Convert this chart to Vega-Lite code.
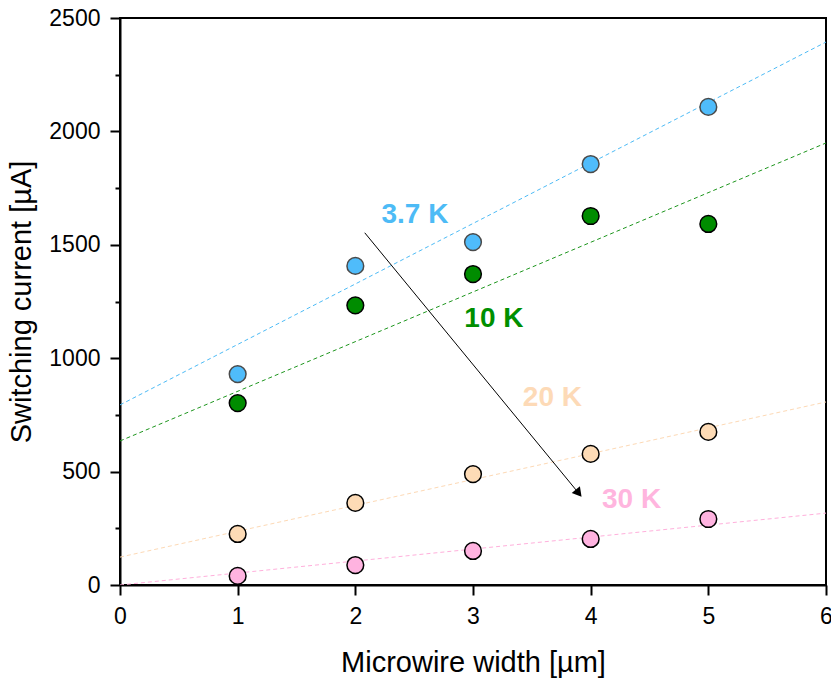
{
  "$schema": "https://vega.github.io/schema/vega-lite/v6.json",
  "autosize": {"type": "none"},
  "width": 706,
  "height": 567,
  "padding": {"left": 120, "top": 18, "right": 5, "bottom": 96},
  "background": "white",
  "config": {
    "view": {"stroke": "black", "strokeWidth": 2},
    "font": "Liberation Sans",
    "axis": {
      "domainColor": "black", "domainWidth": 2, "tickColor": "black", "tickWidth": 2,
      "labelFont": "Liberation Sans", "labelFontSize": 23, "labelColor": "black",
      "titleFont": "Liberation Sans", "titleFontSize": 29, "titleFontWeight": "normal", "titleColor": "black",
      "grid": false
    }
  },
  "datasets": {
    "pts": [
      {"series": "3.7 K", "w": 1, "ic": 930},
      {"series": "3.7 K", "w": 2, "ic": 1407},
      {"series": "3.7 K", "w": 3, "ic": 1512},
      {"series": "3.7 K", "w": 4, "ic": 1856},
      {"series": "3.7 K", "w": 5, "ic": 2108},
      {"series": "10 K", "w": 1, "ic": 802},
      {"series": "10 K", "w": 2, "ic": 1233},
      {"series": "10 K", "w": 3, "ic": 1371},
      {"series": "10 K", "w": 4, "ic": 1627},
      {"series": "10 K", "w": 5, "ic": 1592},
      {"series": "20 K", "w": 1, "ic": 225},
      {"series": "20 K", "w": 2, "ic": 362},
      {"series": "20 K", "w": 3, "ic": 489},
      {"series": "20 K", "w": 4, "ic": 578},
      {"series": "20 K", "w": 5, "ic": 675},
      {"series": "30 K", "w": 1, "ic": 40},
      {"series": "30 K", "w": 2, "ic": 88},
      {"series": "30 K", "w": 3, "ic": 150},
      {"series": "30 K", "w": 4, "ic": 203},
      {"series": "30 K", "w": 5, "ic": 291}
    ],
    "fits": [
      {"series": "3.7 K", "w": 0, "ic": 794},
      {"series": "3.7 K", "w": 6, "ic": 2394},
      {"series": "10 K", "w": 0, "ic": 635},
      {"series": "10 K", "w": 6, "ic": 1949},
      {"series": "20 K", "w": 0, "ic": 123},
      {"series": "20 K", "w": 6, "ic": 807},
      {"series": "30 K", "w": 0, "ic": 0},
      {"series": "30 K", "w": 6, "ic": 317}
    ],
    "labels": [
      {"series": "3.7 K", "w": 2.507, "ic": 1632},
      {"series": "10 K", "w": 3.178, "ic": 1173},
      {"series": "20 K", "w": 3.675, "ic": 825},
      {"series": "30 K", "w": 4.348, "ic": 376}
    ],
    "arrow": [
      {"w": 2.08, "ic": 1553, "w2": 3.89, "ic2": 410}
    ]
  },
  "layer": [
    {
      "data": {"name": "fits"},
      "mark": {"type": "line", "strokeDash": [4, 3], "strokeWidth": 1, "clip": true},
      "encoding": {
        "x": {"field": "w", "type": "quantitative", "scale": {"domain": [0, 6], "nice": false},
          "axis": {"title": "Microwire width [µm]", "format": "d",
            "values": [0, 0.5, 1, 1.5, 2, 2.5, 3, 3.5, 4, 4.5, 5, 5.5, 6],
            "labelExpr": "datum.value % 1 === 0 ? datum.label : ''",
            "tickSize": {"condition": {"test": "datum.value % 1 === 0", "value": 10}, "value": 5},
            "labelPadding": 10, "titlePadding": 20, "labelFlush": false}},
        "y": {"field": "ic", "type": "quantitative", "scale": {"domain": [0, 2500], "nice": false},
          "axis": {"title": "Switching current [µA]", "format": "d",
            "values": [0, 250, 500, 750, 1000, 1250, 1500, 1750, 2000, 2250, 2500],
            "labelExpr": "datum.value % 500 === 0 ? datum.label : ''",
            "tickSize": {"condition": {"test": "datum.value % 500 === 0", "value": 10}, "value": 5},
            "labelPadding": 10, "titlePadding": 12, "labelFlush": false}},
        "color": {"field": "series", "type": "nominal", "legend": null,
          "scale": {"domain": ["3.7 K", "10 K", "20 K", "30 K"], "range": ["#4DBBF6", "#1E961E", "#FDD9B5", "#FFB0DC"]}},
        "detail": {"field": "series"}
      }
    },
    {
      "data": {"name": "arrow"},
      "mark": {"type": "rule", "color": "black", "strokeWidth": 1},
      "encoding": {
        "x": {"field": "w", "type": "quantitative"},
        "y": {"field": "ic", "type": "quantitative"},
        "x2": {"field": "w2"},
        "y2": {"field": "ic2"}
      }
    },
    {
      "data": {"name": "arrow"},
      "mark": {"type": "point", "shape": "triangle", "filled": true, "color": "black", "size": 110, "angle": 141, "opacity": 1},
      "encoding": {
        "x": {"field": "w2", "type": "quantitative"},
        "y": {"field": "ic2", "type": "quantitative"}
      }
    },
    {
      "data": {"name": "pts"},
      "mark": {"type": "point", "filled": true, "size": 280, "strokeWidth": 1.5, "opacity": 1},
      "encoding": {
        "x": {"field": "w", "type": "quantitative"},
        "y": {"field": "ic", "type": "quantitative"},
        "fill": {"field": "series", "type": "nominal", "legend": null,
          "scale": {"domain": ["3.7 K", "10 K", "20 K", "30 K"], "range": ["#4FBCFB", "#008C00", "#FDDBB6", "#FFB3E0"]}},
        "stroke": {"field": "series", "type": "nominal", "legend": null,
          "scale": {"domain": ["3.7 K", "10 K", "20 K", "30 K"], "range": ["#4a4a4a", "#000000", "#000000", "#000000"]}}
      }
    },
    {
      "data": {"name": "labels"},
      "mark": {"type": "text", "font": "Liberation Sans", "fontWeight": "bold", "fontSize": 28, "align": "center", "baseline": "middle"},
      "encoding": {
        "x": {"field": "w", "type": "quantitative"},
        "y": {"field": "ic", "type": "quantitative"},
        "text": {"field": "series"},
        "color": {"field": "series", "type": "nominal", "legend": null,
          "scale": {"domain": ["3.7 K", "10 K", "20 K", "30 K"], "range": ["#4DBBF6", "#008F00", "#FDDAB7", "#FFB5DE"]}}
      }
    }
  ],
  "resolve": {"scale": {"color": "independent", "fill": "independent", "stroke": "independent"}}
}
